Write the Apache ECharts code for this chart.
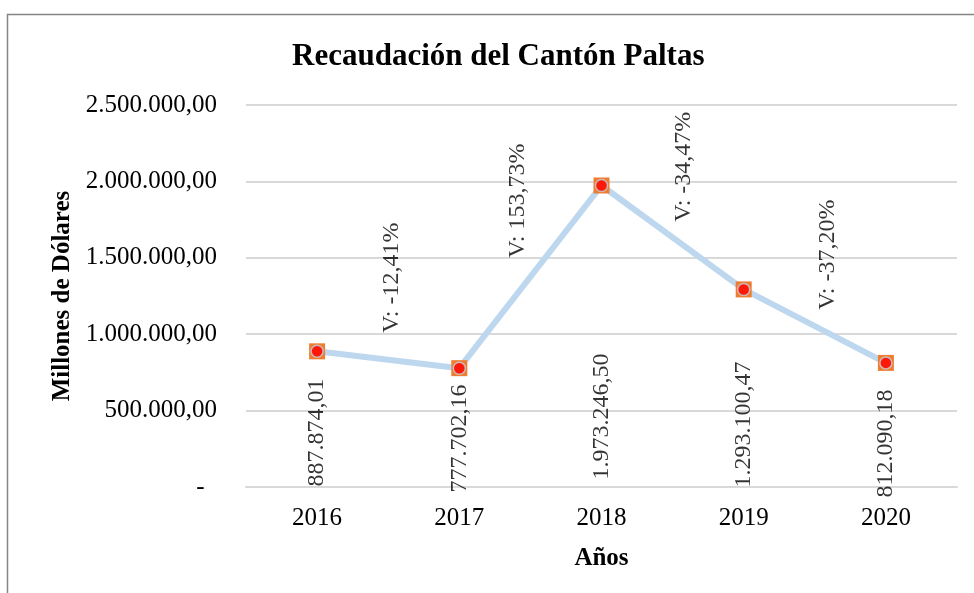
<!DOCTYPE html>
<html>
<head>
<meta charset="utf-8">
<script src="https://cdn.jsdelivr.net/npm/echarts@6/dist/echarts.min.js"></script>
<style>
  html, body { margin: 0; padding: 0; background: #fff; }
  #chart { width: 974px; height: 593px; }
</style>
</head>
<body>
<div id="chart"></div>
<script>
// datos de la gráfica
const years = ['2016', '2017', '2018', '2019', '2020'];
const recaudacion = [887874.01, 777702.16, 1973246.50, 1293100.47, 812090.18];
const recaudacionTxt = ['887.874,01', '777.702,16', '1.973.246,50', '1.293.100,47', '812.090,18'];
// base (valor en eje Y) donde empieza cada etiqueta vertical de valor
const labelBase = [0, -39000, 46000, -6500, -72000];
// etiquetas de variación entre años
const varTxt = ['V: -12,41%', 'V: 153,73%', 'V: -34,47%', 'V: -37,20%'];
const varPosX = [1.028, 1.908, 3.077, 4.092];
const varPosY = [1006000, 1497000, 1732000, 1157000];
const yTicks = [0, 500000, 1000000, 1500000, 2000000, 2500000];

const serif = "'Liberation Serif', 'Times New Roman', serif";

function fmtMiles(v) {
  if (v === 0) return '-  ';
  let s = Math.round(v).toString().replace(/\B(?=(\d{3})+(?!\d))/g, '.');
  return s + ',00';
}

let myChart = echarts.init(document.getElementById('chart'));
let option = {
  animation: false,
  backgroundColor: '#fff',
  title: {
    text: 'Recaudación del Cantón Paltas',
    left: 287,
    top: 36,
    textStyle: { fontFamily: serif, fontWeight: 'bold', fontSize: 31, color: '#000' }
  },
  graphic: [{
    type: 'rect',
    shape: { x: 7.5, y: 14.5, width: 1100, height: 800 },
    style: { fill: null, stroke: '#858585', lineWidth: 1.5 },
    silent: true
  }],
  grid: { left: 246, right: 17, top: 105, bottom: 106 },
  xAxis: [{
    type: 'category',
    data: years,
    name: 'Años',
    nameLocation: 'middle',
    nameGap: 59,
    nameTextStyle: { fontFamily: serif, fontWeight: 'bold', fontSize: 25, color: '#000' },
    axisLine: { lineStyle: { color: '#d9d9d9', width: 2 } },
    axisTick: { show: false },
    axisLabel: { fontFamily: serif, fontSize: 25, color: '#000', margin: 19 }
  }, {
    type: 'value',
    min: 0,
    max: 5,
    show: false
  }],
  yAxis: {
    type: 'value',
    min: 0,
    max: 2500000,
    interval: 500000,
    name: 'Millones de Dólares',
    nameLocation: 'middle',
    nameGap: 171,
    nameTextStyle: { fontFamily: serif, fontWeight: 'bold', fontSize: 25, color: '#000' },
    axisLine: { show: false },
    axisTick: { show: false },
    splitLine: { lineStyle: { color: '#d9d9d9', width: 2 } },
    axisLabel: {
      fontFamily: serif, fontSize: 25, color: '#000', margin: 29,
      formatter: function (v) { return yTicks.indexOf(v) >= 0 ? fmtMiles(v) : ''; }
    }
  },
  series: [
    {
      name: 'Recaudación',
      type: 'line',
      data: recaudacion,
      lineStyle: { color: '#BDD7EE', width: 6 },
      symbol: 'rect',
      symbolSize: 16,
      itemStyle: { color: '#ED7D31' },
      z: 2
    },
    {
      name: 'puntos',
      type: 'scatter',
      data: recaudacion.map((v, i) => [i, v]),
      symbol: 'circle',
      symbolSize: 12,
      itemStyle: { color: '#FF0000', borderColor: '#c5cfe0', borderWidth: 1.5 },
      z: 3
    },
    {
      name: 'valores',
      type: 'scatter',
      clip: false,
      data: labelBase.map((b, i) => [i, b]),
      symbolSize: 1,
      itemStyle: { color: 'transparent' },
      label: {
        show: true,
        position: 'top',
        distance: 0,
        rotate: 90,
        align: 'left',
        verticalAlign: 'middle',
        fontFamily: serif,
        fontSize: 24,
        color: '#000',
        formatter: p => recaudacionTxt[p.dataIndex]
      },
      z: 4
    },
    {
      name: 'variacion',
      type: 'scatter',
      xAxisIndex: 1,
      clip: false,
      data: varPosX.map((x, i) => [x, varPosY[i]]),
      symbolSize: 1,
      itemStyle: { color: 'transparent' },
      label: {
        show: true,
        position: 'top',
        distance: 0,
        rotate: 90,
        align: 'left',
        verticalAlign: 'middle',
        fontFamily: serif,
        fontSize: 24,
        color: '#000',
        formatter: p => varTxt[p.dataIndex]
      },
      z: 4
    }
  ]
};
myChart.setOption(option);
</script>
</body>
</html>
